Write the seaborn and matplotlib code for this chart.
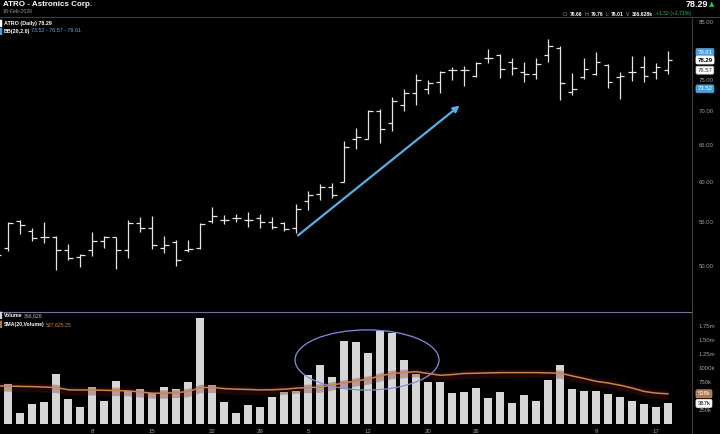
import numpy as np
import matplotlib
matplotlib.use("Agg")
import matplotlib.pyplot as plt
from matplotlib.patches import Ellipse
import seaborn as sns

# daily bars, 25-Nov-2025 .. 18-Feb-2026
dates = ["2025-11-25", "2025-11-26", "2025-11-28",
         "2025-12-01", "2025-12-02", "2025-12-03", "2025-12-04", "2025-12-05",
         "2025-12-08", "2025-12-09", "2025-12-10", "2025-12-11", "2025-12-12",
         "2025-12-15", "2025-12-16", "2025-12-17", "2025-12-18", "2025-12-19",
         "2025-12-22", "2025-12-23", "2025-12-24", "2025-12-26",
         "2025-12-29", "2025-12-30", "2025-12-31", "2026-01-02",
         "2026-01-05", "2026-01-06", "2026-01-07", "2026-01-08", "2026-01-09",
         "2026-01-12", "2026-01-13", "2026-01-14", "2026-01-15", "2026-01-16",
         "2026-01-20", "2026-01-21", "2026-01-22", "2026-01-23",
         "2026-01-26", "2026-01-27", "2026-01-28", "2026-01-29", "2026-01-30",
         "2026-02-02", "2026-02-03", "2026-02-04", "2026-02-05", "2026-02-06",
         "2026-02-09", "2026-02-10", "2026-02-11", "2026-02-12", "2026-02-13",
         "2026-02-17", "2026-02-18"]

opens = [51.34, 52.00, 55.12, 53.89, 53.26, 53.26, 51.75, 50.97, 51.75, 52.75,
         53.22, 51.70, 54.89, 54.30, 52.00, 52.64, 51.70, 52.00, 55.16, 55.29,
         55.46, 55.29, 55.50, 55.03, 54.89, 54.28, 57.54, 58.50, 59.41, 60.05,
         65.87, 65.97, 70.10, 68.31, 71.05, 72.90, 73.42, 74.57, 76.68, 76.56,
         75.67, 78.65, 79.20, 77.91, 76.23, 75.96, 79.20, 80.33, 72.99, 75.45,
         76.00, 77.52, 75.45, 76.23, 77.13, 76.23, 76.66]
highs = [51.78, 54.97, 55.29, 54.33, 54.97, 53.34, 52.37, 51.28, 53.86, 53.30,
         53.26, 55.29, 55.59, 55.71, 53.30, 52.92, 52.92, 54.89, 56.79, 55.79,
         56.00, 56.21, 56.00, 55.59, 54.97, 57.19, 58.91, 59.75, 59.88, 65.62,
         67.58, 70.26, 70.37, 72.27, 73.53, 76.00, 74.89, 76.39, 77.13, 77.23,
         77.91, 80.16, 79.37, 78.65, 77.97, 78.65, 82.00, 80.76, 76.13, 78.65,
         79.59, 77.64, 76.23, 79.03, 78.91, 77.80, 79.76]
lows = [50.67, 51.67, 53.56, 52.78, 52.56, 49.58, 50.67, 49.89, 51.08, 52.00,
        49.60, 50.89, 53.86, 51.81, 51.45, 49.97, 51.53, 51.89, 54.89, 54.78,
        55.00, 54.41, 54.33, 54.22, 53.89, 53.67, 56.41, 57.66, 57.96, 60.05,
        64.46, 65.87, 65.33, 67.08, 70.00, 71.05, 72.63, 72.90, 74.89, 73.94,
        75.45, 77.80, 75.29, 75.84, 74.57, 75.12, 77.97, 71.73, 72.47, 75.12,
        75.84, 73.69, 71.95, 74.73, 74.57, 75.12, 76.01]
closes = [51.15, 54.83, 54.59, 53.11, 53.26, 51.70, 50.82, 51.19, 52.75, 53.19,
          51.70, 54.86, 54.30, 52.26, 52.26, 50.59, 51.89, 54.78, 55.71, 55.29,
          55.46, 55.29, 55.03, 54.41, 54.11, 56.63, 58.29, 59.41, 58.29, 64.82,
          66.20, 70.10, 67.43, 71.57, 72.90, 74.89, 74.48, 76.23, 76.68, 76.56,
          77.80, 78.65, 76.80, 76.97, 75.96, 77.64, 80.76, 74.48, 73.42, 76.80,
          77.91, 74.64, 75.55, 76.23, 75.67, 77.07, 78.29]
volumes = [426000, 710000, 190000, 355000, 396000, 888000, 444000, 308000, 652000, 414000,
           758000, 586000, 622000, 545000, 652000, 622000, 746000, 1895000, 687000, 396000,
           190000, 332000, 302000, 480000, 563000, 580000, 876000, 1042000, 835000, 1469000,
           1460000, 1266000, 1657000, 1628000, 1137000, 888000, 751000, 751000, 556000, 574000,
           645000, 456000, 568000, 378000, 520000, 408000, 776000, 1042000, 616000, 580000,
           580000, 527000, 485000, 403000, 355000, 308000, 366628]
sma_volume = [678000, 675000, 670000, 666000, 658000, 648000, 610000, 605000, 607000, 600000,
              595000, 590000, 570000, 549000, 549000, 560000, 577000, 648000, 652000, 630000,
              620000, 615000, 607000, 610000, 620000, 638000, 650000, 655000, 696000, 730000,
              767000, 800000, 856000, 900000, 915000, 932000, 900000, 868000, 880000, 900000,
              904000, 910000, 915000, 915000, 915000, 915000, 910000, 904000, 856000, 810000,
              760000, 730000, 690000, 640000, 580000, 550000, 537625]

tick_dates = ["2025-12-08", "2025-12-15", "2025-12-22", "2025-12-29", "2026-01-05",
              "2026-01-12", "2026-01-20", "2026-01-26", "2026-02-09", "2026-02-17"]
tick_labels = ["8", "15", "22", "29", "5", "12", "20", "26", "9", "17"]
price_ticks = [50, 55, 60, 65, 70, 75, 85]
vol_ticks = [250000, 750000, 1000000, 1250000, 1500000, 1750000]
vol_tick_labels = ["250k", "750k", "1000k", "1.25m", "1.50m", "1.75m"]

sns.set_theme(style="dark", rc={"axes.facecolor": "black", "figure.facecolor": "black"})
plt.rcParams["font.family"] = ["Liberation Sans", "DejaVu Sans"]

x = np.arange(len(dates))
fig = plt.figure(figsize=(7.2, 4.34), dpi=100, facecolor="black")
ax_p = fig.add_axes([0, 0.281, 0.961, 0.680])
ax_v = fig.add_axes([0, 0.023, 0.961, 0.258])
xlim = (0.31, 57.98)

# price bars (OHLC)
bar_col = "#e4e4e4"
ax_p.vlines(x, lows, highs, color=bar_col, lw=0.9)
ax_p.hlines(opens, x - 0.36, x, color=bar_col, lw=0.9)
ax_p.hlines(closes, x, x + 0.36, color=bar_col, lw=0.9)
ax_p.set_yscale("log")
ax_p.set_ylim(45.2, 86.0)
ax_p.set_xlim(*xlim)
ax_p.yaxis.set_minor_locator(matplotlib.ticker.NullLocator())
ax_p.set_yticks(price_ticks)
ax_p.set_yticklabels([f"{p:.2f}" for p in price_ticks])
ax_p.set_xticks([])

ax_p.annotate("", xy=(38.8, 71.16), xytext=(24.97, 53.22),
              arrowprops=dict(arrowstyle="-|>", color="#5aaee6", lw=1.6, mutation_scale=9))

# volume
sns.barplot(x=x, y=volumes, native_scale=True, color="#d6d6d6", saturation=1,
            width=0.68, ax=ax_v, edgecolor="none", errorbar=None)
sma = np.array(sma_volume)
ax_v.fill_between(x, sma - 90000, sma + 60000, color="#6a1414", alpha=0.3, lw=0, zorder=3)
sns.lineplot(x=x, y=sma_volume, color="#c7874f", lw=1.1, ax=ax_v, zorder=4)
ax_v.add_patch(Ellipse((30.9, 1.14e6), 12.0, 1.07e6, fill=False, ec="#8090d8", lw=0.9, zorder=5))
ax_v.set_ylim(0, 1.993e6)
ax_v.set_xlim(*xlim)
ax_v.set_yticks(vol_ticks)
ax_v.set_yticklabels(vol_tick_labels)
ax_v.set_xticks([dates.index(d) for d in tick_dates] + [44.5])
ax_v.set_xticklabels(tick_labels + [""])
ax_v.set_xlabel("")
ax_v.set_ylabel("")

for ax in (ax_p, ax_v):
    ax.yaxis.tick_right()
    ax.tick_params(axis="y", length=0, pad=5, labelsize=4.3, labelcolor="#a0a0a0")
    ax.tick_params(axis="x", length=2, width=0.5, color="#666666", pad=1.5,
                   labelsize=4.3, labelcolor="#a0a0a0")
    ax.grid(False)
    for s in ("left", "bottom", "top", "right"):
        ax.spines[s].set_visible(False)
ax_v.spines["top"].set_visible(True)
ax_v.spines["top"].set_color("#6f76a6")
ax_v.spines["top"].set_linewidth(0.8)

# frame lines
fig.add_artist(plt.Line2D([0, 1], [1 - 17 / 434] * 2, transform=fig.transFigure,
                          color="#3c3c3c", lw=0.8))
fig.add_artist(plt.Line2D([0.961] * 2, [0, 1 - 17 / 434], transform=fig.transFigure,
                          color="#3c3c3c", lw=0.8))


def tag(ax, y, text, fc, tc, ec, bold=False):
    ax.text(1.008, y, text, transform=ax.get_yaxis_transform(), ha="left", va="center",
            fontsize=4.3, color=tc, fontweight="bold" if bold else "normal",
            bbox=dict(boxstyle="round,pad=0.25", fc=fc, ec=ec, lw=0.5), zorder=10, clip_on=False)


tag(ax_p, 79.61, "79.61", "#4b9fdc", "white", "#4b9fdc")
tag(ax_p, 78.29, "78.29", "white", "black", "white", bold=True)
tag(ax_p, 76.57, "76.57", "white", "#333333", "#bbbbbb")
tag(ax_p, 73.52, "73.52", "#4b9fdc", "white", "#4b9fdc")
tag(ax_v, 537625, "538k", "#a9764b", "white", "#e0a070")
tag(ax_v, 366628, "367k", "white", "black", "white")

renderer = fig.canvas.get_renderer()


def seq(px, py, parts, gap=1.5, **common):
    # place text pieces one after another on a line (pixel coords from top-left)
    for s, kw in parts:
        t = fig.text(px / 720, 1 - py / 434, s, va="center", **common, **kw)
        px += t.get_window_extent(renderer).width + gap
    return px


W = {"color": "white"}
G = {"color": "#999999"}
B = {"color": "white", "fontweight": "bold"}

seq(3, 5, [("ATRO - Astronics Corp.", B)], fontsize=5.8)
seq(3, 11.5, [("18-Feb-2026", G)], fontsize=3.8)
seq(0, 23, [("\u258c", W)], fontsize=4.5)
seq(3.5, 23, [("ATRO (Daily) 78.29", B)], fontsize=3.9)
seq(0, 31, [("\u258c", {"color": "#4b9fdc"})], fontsize=4.5)
seq(3.5, 31, [("BB(20,2.0)", B), ("73.52 - 76.57 - 79.61", {"color": "#5aaee6"})], fontsize=3.9)

seq(686, 4.5, [("78.29", B)], fontsize=6.5)
seq(709, 4.5, [("\u25b2", {"color": "#2fbf4a", "family": "DejaVu Sans"})], fontsize=5)
seq(563, 14, [("O:", G), ("76.66", B), ("", {}), ("H:", G), ("79.76", B), ("", {}),
              ("L:", G), ("76.01", B), ("", {}), ("V:", G), ("366.628k", B), ("", {}),
              ("+1.32 (+1.71%)", {"color": "#2fbf4a"})], fontsize=3.7, gap=1.2)

seq(0, 315.5, [("\u258c", {"color": "#d6d6d6"})], fontsize=4.2)
seq(3.5, 315.5, [("Volume", B), ("366,628", {"color": "#bbbbbb"})], fontsize=3.7)
seq(0, 324.5, [("\u258c", {"color": "#a9764b"})], fontsize=4.2)
seq(3.5, 324.5, [("SMA(20,Volume)", B), ("537,625.25", {"color": "#c7874f"})], fontsize=3.7)

fig.savefig("out.png", dpi=100, facecolor="black")
